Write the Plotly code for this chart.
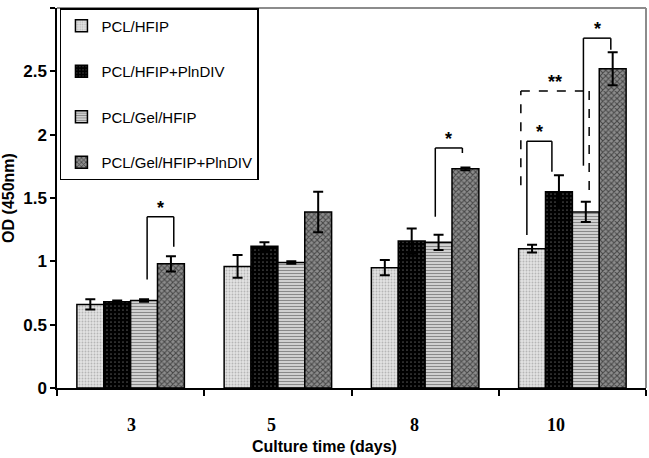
import plotly.graph_objects as go

categories = ["3", "5", "8", "10"]
series_names = ["PCL/HFIP", "PCL/HFIP+PlnDIV", "PCL/Gel/HFIP", "PCL/Gel/HFIP+PlnDIV"]
pcl_hfip = [0.66, 0.96, 0.95, 1.10]
pcl_hfip_err = [0.04, 0.09, 0.06, 0.03]
pcl_hfip_pin = [0.68, 1.12, 1.16, 1.55]
pcl_hfip_pin_err = [0.01, 0.03, 0.10, 0.13]
pcl_gel = [0.69, 0.99, 1.15, 1.39]
pcl_gel_err = [0.01, 0.01, 0.06, 0.08]
pcl_gel_pin = [0.98, 1.39, 1.73, 2.52]
pcl_gel_pin_err = [0.06, 0.16, 0.01, 0.13]

values = [pcl_hfip, pcl_hfip_pin, pcl_gel, pcl_gel_pin]
errors = [pcl_hfip_err, pcl_hfip_pin_err, pcl_gel_err, pcl_gel_pin_err]

# where the category labels sit (in category-index units; the source places them slightly left)
label_positions = [0.006, 0.956, 1.927, 2.888]

# significance brackets: (x_left, x_right, y_top, y_left_bottom, y_right_bottom, label, dashed)
brackets = [
    (0.112, 0.293, 1.352, 0.857, 1.115, "*", False),
    (2.069, 2.253, 1.895, 1.352, 1.855, "*", False),
    (2.691, 2.861, 1.948, 1.207, 1.708, "*", False),
    (2.650, 3.114, 2.345, 1.600, 1.550, "**", True),
    (3.075, 3.261, 2.762, 1.755, 2.670, "*", False),
]

patterns = [
    dict(shape=".", bgcolor="#e2e2e2", fgcolor="#8a8a8a", size=3, solidity=0.3),
    dict(shape=".", bgcolor="#000000", fgcolor="#9a9a9a", size=4, solidity=0.15),
    dict(shape="-", bgcolor="#d8d8d8", fgcolor="#3a3a3a", size=3, solidity=0.4),
    dict(shape="x", bgcolor="#8c8c8c", fgcolor="#000000", size=4, solidity=0.45),
]

fig = go.Figure()
# empty carrier trace (drawn first) so the label axis is drawn
fig.add_trace(go.Scatter(x=label_positions, y=[None] * len(label_positions), xaxis="x2", yaxis="y",
                         mode="markers", showlegend=False, hoverinfo="skip"))
for i, name in enumerate(series_names):
    fig.add_trace(go.Bar(
        x=categories, y=values[i], name=name,
        legendgroup=name,
        marker=dict(color=patterns[i]["bgcolor"], line=dict(color="black", width=1.5),
                    pattern=patterns[i]),
        error_y=dict(type="data", array=errors[i], color="black", thickness=2, width=5),
    ))

shapes = []
annotations = []
for xl, xr, yt, ylb, yrb, lab, dashed in brackets:
    dash = "dash" if dashed else "solid"
    ln = dict(color="black", width=1.5, dash=dash)
    shapes.append(dict(type="line", xref="x", yref="y", x0=xl, x1=xl, y0=ylb, y1=yt, line=ln))
    shapes.append(dict(type="line", xref="x", yref="y", x0=xl, x1=xr, y0=yt, y1=yt, line=ln))
    shapes.append(dict(type="line", xref="x", yref="y", x0=xr, x1=xr, y0=yt, y1=yrb, line=ln))
    annotations.append(dict(x=(xl + xr) / 2, y=yt, xref="x", yref="y", text="<b>" + lab + "</b>",
                            showarrow=False, yanchor="bottom", yshift=-3,
                            font=dict(family="Liberation Sans, Arial", size=18, color="black")))

# gray frame top and right
shapes.append(dict(type="line", xref="paper", yref="paper", x0=0, x1=1, y0=1, y1=1,
                   line=dict(color="#8c8c8c", width=2)))
shapes.append(dict(type="line", xref="paper", yref="paper", x0=1, x1=1, y0=0, y1=1,
                   line=dict(color="#8c8c8c", width=2)))

# secondary (label) axis: domain shortened so its title is centred where the source has it
lab_domain_end = 0.908
lab_range_end = lab_domain_end * len(categories) - 0.5

fig.update_layout(
    width=649, height=458,
    margin=dict(l=57, r=3, t=8, b=70),
    paper_bgcolor="white", plot_bgcolor="rgba(0,0,0,0)",
    barmode="group", bargap=0.27, bargroupgap=0,
    showlegend=True,
    legend=dict(x=0.005, y=1, xanchor="left", yanchor="top",
                bgcolor="white", bordercolor="black", borderwidth=1.5,
                font=dict(family="Liberation Sans, Arial", size=15, color="black"),
                traceorder="grouped", tracegroupgap=23, itemwidth=30),
    shapes=shapes,
    annotations=annotations,
    xaxis=dict(type="category", automargin=False, showline=True, linecolor="black", linewidth=1.5,
               ticks="outside", tickson="boundaries", ticklen=6, tickcolor="black", tickwidth=1.5,
               showticklabels=False),
    xaxis2=dict(anchor="y", domain=[0, lab_domain_end], range=[-0.5, lab_range_end],
                automargin=False, showline=False, showgrid=False, zeroline=False, ticks="",
                tickmode="array", tickvals=label_positions,
                ticktext=["<b>" + c + "</b>" for c in categories],
                tickfont=dict(family="Liberation Serif, Times New Roman", size=18, color="black"),
                ticklabelstandoff=24, fixedrange=True,
                title=dict(text="<b>Culture time (days)</b>", standoff=6,
                           font=dict(family="Liberation Sans, Arial", size=16, color="black"))),
    yaxis=dict(range=[0, 3], dtick=0.5, automargin=False, showline=True, linecolor="black", linewidth=1.5,
               ticks="outside", ticklen=5, tickcolor="black", tickwidth=1.5, showgrid=False,
               zeroline=False,
               tickfont=dict(family="Liberation Sans, Arial", size=17, color="black"),
               tickprefix="<b>", ticksuffix="</b>",
               title=dict(text="<b>OD (450nm)</b>", standoff=6,
                          font=dict(family="Liberation Sans, Arial", size=16, color="black"))),
)

fig.write_html("out.html", config={"displayModeBar": False},
               post_script="document.body.style.margin='0';document.body.style.overflow='hidden';")
